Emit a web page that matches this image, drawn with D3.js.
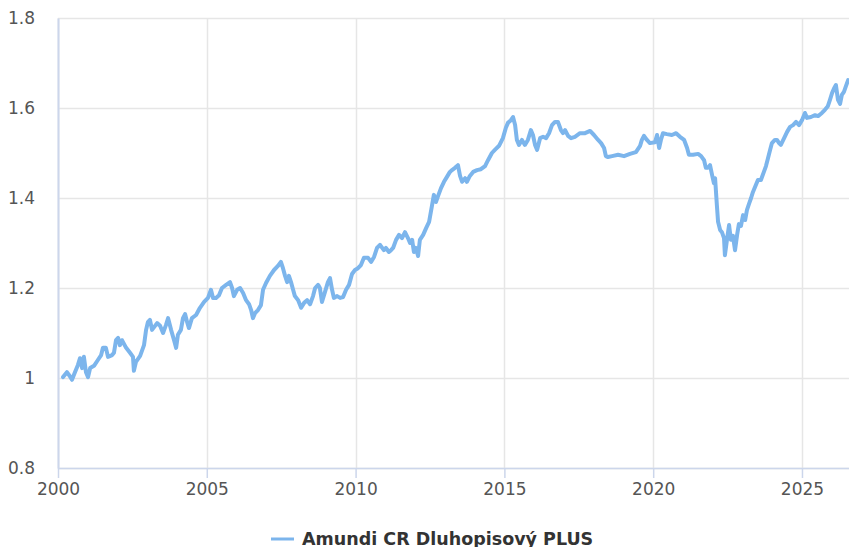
<!DOCTYPE html>
<html>
<head>
<meta charset="utf-8">
<script src="https://cdn.jsdelivr.net/npm/d3@7"></script>
<style>
  html, body { margin: 0; padding: 0; background: #fff; overflow: hidden; }
  svg { display: block; font-family: "DejaVu Sans", sans-serif; }
</style>
</head>
<body>
<svg id="chart" width="849" height="547"></svg>
<script>
// Fund price history (decimal year, NAV)
const years = [
  2000.17, 2000.30, 2000.40, 2000.47, 2000.57, 2000.67, 2000.74, 2000.81, 2000.87, 2000.94,
  2001.01, 2001.08, 2001.21, 2001.34, 2001.45, 2001.51, 2001.61, 2001.68, 2001.82, 2001.88,
  2001.95, 2002.02, 2002.08, 2002.15, 2002.29, 2002.42, 2002.52, 2002.55, 2002.62, 2002.76,
  2002.89, 2002.96, 2003.02, 2003.09, 2003.16, 2003.23, 2003.33, 2003.43, 2003.53, 2003.63,
  2003.70, 2003.80, 2003.90, 2003.97, 2004.03, 2004.13, 2004.20, 2004.27, 2004.34, 2004.40,
  2004.50, 2004.64, 2004.77, 2004.91, 2005.04, 2005.14, 2005.21, 2005.31, 2005.41, 2005.51,
  2005.65, 2005.78, 2005.85, 2005.91, 2006.02, 2006.12, 2006.22, 2006.32, 2006.42, 2006.49,
  2006.55, 2006.62, 2006.72, 2006.82, 2006.89, 2006.99, 2007.12, 2007.26, 2007.39, 2007.49,
  2007.56, 2007.63, 2007.70, 2007.76, 2007.83, 2007.90, 2007.96, 2008.07, 2008.17, 2008.27,
  2008.37, 2008.47, 2008.57, 2008.64, 2008.74, 2008.80, 2008.87, 2008.97, 2009.07, 2009.14,
  2009.21, 2009.27, 2009.38, 2009.48, 2009.58, 2009.68, 2009.78, 2009.88, 2009.98, 2010.08,
  2010.18, 2010.28, 2010.42, 2010.52, 2010.62, 2010.72, 2010.82, 2010.95, 2011.02, 2011.12,
  2011.19, 2011.26, 2011.36, 2011.46, 2011.56, 2011.66, 2011.76, 2011.83, 2011.90, 2011.96,
  2012.03, 2012.10, 2012.16, 2012.27, 2012.37, 2012.47, 2012.57, 2012.63, 2012.70, 2012.77,
  2012.87, 2012.97, 2013.07, 2013.17, 2013.24, 2013.34, 2013.44, 2013.51, 2013.58, 2013.68,
  2013.74, 2013.84, 2013.95, 2014.08, 2014.21, 2014.35, 2014.45, 2014.58, 2014.68, 2014.82,
  2014.95, 2015.05, 2015.12, 2015.22, 2015.29, 2015.36, 2015.42, 2015.49, 2015.59, 2015.69,
  2015.79, 2015.89, 2015.96, 2016.03, 2016.10, 2016.20, 2016.30, 2016.40, 2016.50, 2016.60,
  2016.70, 2016.80, 2016.90, 2016.97, 2017.04, 2017.14, 2017.24, 2017.37, 2017.54, 2017.71,
  2017.88, 2018.01, 2018.15, 2018.25, 2018.35, 2018.41, 2018.48, 2018.62, 2018.82, 2019.02,
  2019.22, 2019.42, 2019.56, 2019.62, 2019.69, 2019.79, 2019.89, 2020.06, 2020.13, 2020.20,
  2020.26, 2020.33, 2020.46, 2020.63, 2020.77, 2020.90, 2021.04, 2021.14, 2021.20, 2021.34,
  2021.51, 2021.61, 2021.71, 2021.77, 2021.84, 2021.91, 2021.98, 2022.04, 2022.08, 2022.14,
  2022.18, 2022.25, 2022.31, 2022.38, 2022.41, 2022.48, 2022.55, 2022.61, 2022.68, 2022.75,
  2022.82, 2022.88, 2022.95, 2023.02, 2023.09, 2023.15, 2023.22, 2023.29, 2023.35, 2023.45,
  2023.52, 2023.62, 2023.72, 2023.79, 2023.86, 2023.93, 2023.99, 2024.09, 2024.16, 2024.23,
  2024.29, 2024.40, 2024.50, 2024.60, 2024.70, 2024.80, 2024.90, 2025.00, 2025.10, 2025.17,
  2025.30, 2025.44, 2025.54, 2025.67, 2025.77, 2025.87, 2025.94, 2026.01, 2026.08, 2026.14,
  2026.21, 2026.28, 2026.34, 2026.41, 2026.48, 2026.55
];
const navValues = [
  1.002, 1.013, 1.004, 0.996, 1.013, 1.029, 1.044, 1.022, 1.047, 1.013,
  1.002, 1.022, 1.027, 1.040, 1.051, 1.067, 1.067, 1.047, 1.051, 1.056,
  1.084, 1.089, 1.073, 1.084, 1.067, 1.056, 1.047, 1.016, 1.036, 1.049,
  1.073, 1.107, 1.124, 1.129, 1.107, 1.113, 1.122, 1.116, 1.100, 1.118,
  1.133, 1.107, 1.084, 1.067, 1.096, 1.107, 1.133, 1.142, 1.124, 1.111,
  1.133, 1.140, 1.156, 1.169, 1.178, 1.196, 1.178, 1.178, 1.184, 1.200,
  1.207, 1.213, 1.200, 1.182, 1.196, 1.200, 1.189, 1.173, 1.164, 1.151,
  1.133, 1.144, 1.151, 1.162, 1.196, 1.211, 1.227, 1.240, 1.249, 1.258,
  1.244, 1.227, 1.213, 1.227, 1.213, 1.196, 1.182, 1.173, 1.156, 1.167,
  1.173, 1.164, 1.182, 1.200, 1.207, 1.200, 1.169, 1.191, 1.213, 1.222,
  1.196, 1.178, 1.182, 1.178, 1.180, 1.196, 1.207, 1.231, 1.240, 1.244,
  1.251, 1.267, 1.267, 1.258, 1.269, 1.289, 1.296, 1.284, 1.289, 1.280,
  1.284, 1.289, 1.307, 1.318, 1.311, 1.324, 1.311, 1.300, 1.307, 1.280,
  1.289, 1.271, 1.307, 1.318, 1.333, 1.347, 1.384, 1.407, 1.391, 1.404,
  1.422, 1.436, 1.447, 1.458, 1.462, 1.467, 1.473, 1.449, 1.436, 1.444,
  1.436, 1.449, 1.458, 1.462, 1.464, 1.471, 1.484, 1.500, 1.507, 1.516,
  1.533, 1.556, 1.567, 1.573, 1.580, 1.562, 1.529, 1.518, 1.529, 1.518,
  1.529, 1.551, 1.540, 1.518, 1.507, 1.533, 1.536, 1.533, 1.544, 1.562,
  1.569, 1.569, 1.551, 1.544, 1.551, 1.538, 1.533, 1.536, 1.544, 1.544,
  1.549, 1.540, 1.529, 1.522, 1.511, 1.493, 1.491, 1.493, 1.496, 1.493,
  1.498, 1.502, 1.516, 1.529, 1.538, 1.529, 1.522, 1.524, 1.540, 1.511,
  1.529, 1.544, 1.542, 1.540, 1.544, 1.536, 1.529, 1.511, 1.496, 1.496,
  1.498, 1.493, 1.484, 1.467, 1.467, 1.473, 1.451, 1.433, 1.444, 1.384,
  1.347, 1.329, 1.324, 1.311, 1.273, 1.307, 1.340, 1.307, 1.316, 1.284,
  1.318, 1.342, 1.338, 1.362, 1.351, 1.373, 1.387, 1.400, 1.413, 1.429,
  1.440, 1.440, 1.458, 1.471, 1.489, 1.507, 1.522, 1.529, 1.529, 1.522,
  1.518, 1.533, 1.547, 1.558, 1.562, 1.569, 1.562, 1.573, 1.589, 1.578,
  1.580, 1.584, 1.582, 1.589, 1.596, 1.604, 1.618, 1.633, 1.644, 1.651,
  1.618, 1.609, 1.629, 1.636, 1.649, 1.662
];
const seriesName = "Amundi CR Dluhopisový PLUS";
const yTicks = [0.8, 1.0, 1.2, 1.4, 1.6, 1.8];
const xTicks = [2000, 2005, 2010, 2015, 2020, 2025];

const data = years.map((t, i) => ({ t, v: navValues[i] }));

const svg = d3.select("#chart");
const margin = { left: 58, right: 0, top: 18, bottom: 79 };
const W = 849, H = 547;

const x = d3.scaleLinear().domain([2000, 2026.58]).range([margin.left, W - margin.right]);
const y = d3.scaleLinear().domain([0.8, 1.8]).range([H - margin.bottom, margin.top]);

// Grid lines
const grid = svg.append("g");
grid.selectAll("line.h").data(yTicks).join("line")
  .attr("x1", margin.left).attr("x2", W)
  .attr("y1", d => Math.round(y(d)) + 0.5).attr("y2", d => Math.round(y(d)) + 0.5)
  .attr("stroke", "#e6e6e6").attr("stroke-width", 1.5);
grid.selectAll("line.v").data(xTicks).join("line")
  .attr("x1", d => Math.round(x(d)) + 0.5).attr("x2", d => Math.round(x(d)) + 0.5)
  .attr("y1", margin.top).attr("y2", H - margin.bottom)
  .attr("stroke", "#e6e6e6").attr("stroke-width", 1.5);

// Y axis labels
const yAxis = svg.append("g").attr("transform", `translate(${margin.left},0)`)
  .call(d3.axisLeft(y).tickValues(yTicks).tickSize(0).tickPadding(23)
    .tickFormat(d => d3.format("")(+d.toFixed(1))));
yAxis.select(".domain").attr("stroke", "#ccd6eb").attr("stroke-width", 2);
yAxis.selectAll("text").attr("fill", "#555").style("font-size", "17px")
  .style("font-family", "DejaVu Sans, sans-serif");

// X axis
const xAxis = svg.append("g").attr("transform", `translate(0,${H - margin.bottom})`)
  .call(d3.axisBottom(x).tickValues(xTicks).tickSize(10).tickPadding(5).tickFormat(d3.format("d")).tickSizeOuter(0));
xAxis.select(".domain").attr("stroke", "#ccd6eb").attr("stroke-width", 1.5);
xAxis.selectAll(".tick line").attr("stroke", "#ccd6eb").attr("stroke-width", 1.5);
xAxis.selectAll("text").attr("fill", "#555").style("font-size", "17px")
  .style("font-family", "DejaVu Sans, sans-serif");

// Price line
const line = d3.line().x(d => x(d.t)).y(d => y(d.v)).curve(d3.curveLinear);
svg.append("path").datum(data)
  .attr("d", line)
  .attr("fill", "none")
  .attr("stroke", "#7cb5ec")
  .attr("stroke-width", 4)
  .attr("stroke-linejoin", "round")
  .attr("stroke-linecap", "round");

// Legend
const legend = svg.append("g").attr("transform", "translate(271,539)");
legend.append("line").attr("x1", 0).attr("x2", 23).attr("y1", 0).attr("y2", 0)
  .attr("stroke", "#7cb5ec").attr("stroke-width", 3);
legend.append("text").attr("x", 31).attr("y", 5.5)
  .attr("fill", "#333").style("font-size", "17.5px").style("font-weight", "bold")
  .text(seriesName);
</script>
</body>
</html>
